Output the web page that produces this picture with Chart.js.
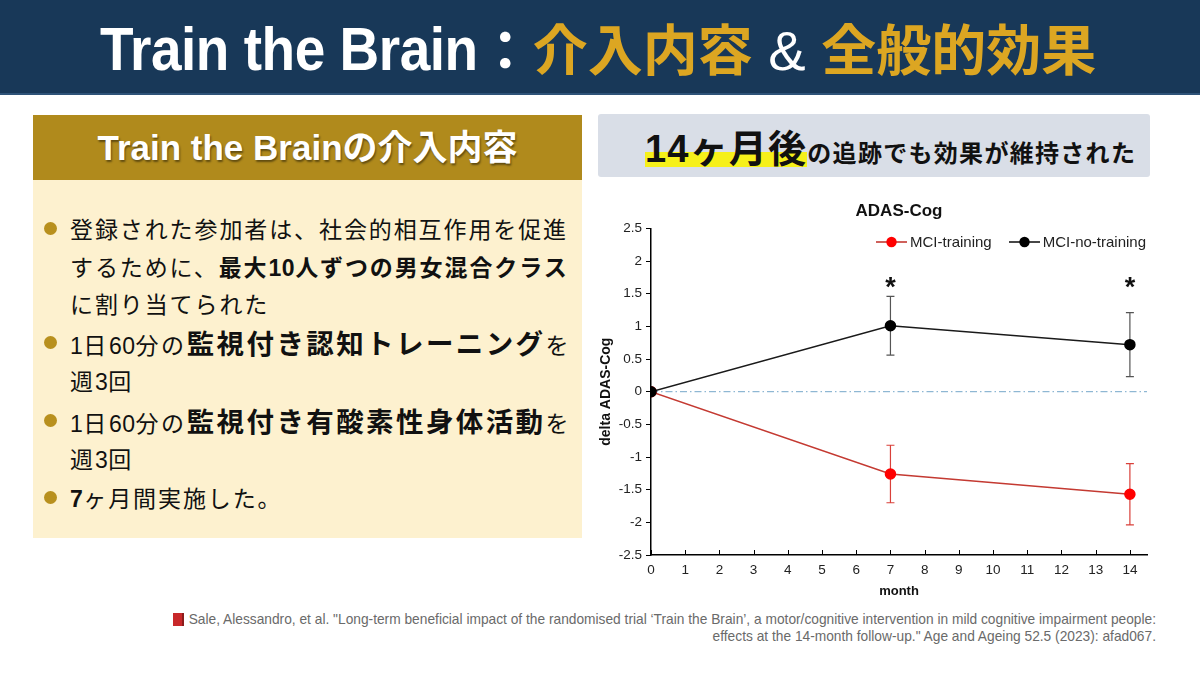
<!DOCTYPE html>
<html lang="ja">
<head>
<meta charset="utf-8">
<script src="https://cdn.jsdelivr.net/npm/chart.js@4.4.1/dist/chart.umd.min.js"></script>
<style>
  html, body { margin:0; padding:0; }
  body { width:1200px; height:675px; background:#ffffff; position:relative; overflow:hidden;
         font-family:"Liberation Sans","Noto Sans CJK JP",sans-serif; }
  #hdr { position:absolute; left:0; top:0; width:1200px; height:93px; background:#183858;
         border-bottom:2px solid #2e5378; }
  #hdr .t { position:absolute; left:100px; top:13px; white-space:nowrap;
            font-weight:700; font-size:56px; line-height:66px; color:#fff; }
  #hdr .en { font-family:"Liberation Sans",sans-serif; font-size:61px; display:inline-block;
             transform:scaleX(0.9); transform-origin:left center; letter-spacing:-0.5px; }
  #hdr .jp { font-family:"Noto Sans CJK JP",sans-serif; color:#dca622; font-size:55px; }
  #hdr .amp { font-family:"Liberation Sans",sans-serif; color:#fff; font-weight:400; }
  #lh { position:absolute; left:33px; top:115px; width:549px; height:65px; background:#b08a1c;
        color:#fff; font-weight:700; font-size:35px; line-height:65px; text-align:center; white-space:nowrap;
        text-shadow:1px 2px 2px rgba(0,0,0,0.45); }
  #lb { position:absolute; left:33px; top:180px; width:549px; height:358px; background:#fdf1cf; }
  .ln { position:absolute; left:37px; white-space:nowrap; height:38px; line-height:38px;
        font-family:"Noto Sans CJK JP",sans-serif; color:#111; font-size:23px; letter-spacing:1.9px; }
  .ln b { font-weight:700; }
  .ln .big { font-size:27.5px; letter-spacing:2.4px; font-weight:700; }
  .ln .num { font-family:"Liberation Sans",sans-serif; letter-spacing:0.5px; }
  .ln .pre { letter-spacing:2.6px; }
  .dot { position:absolute; left:11px; width:13px; height:13px; border-radius:50%; background:#b8901e; }
  #rh { position:absolute; left:598px; top:114px; width:552px; height:63px; background:#d9dee7; border-radius:3px;
        white-space:nowrap; font-family:"Noto Sans CJK JP",sans-serif; font-weight:700; color:#111; }
  #rh .in { position:absolute; left:47px; top:4px; line-height:56px; }
  #rh .hl { font-size:38px; letter-spacing:1.2px;
            background:linear-gradient(to bottom, transparent 62%, #f6f01a 62%, #f6f01a 90%, transparent 90%); }
  #rh .hl .n { font-family:"Liberation Sans",sans-serif; }
  #rh .rest { font-size:24px; letter-spacing:1.3px; }
  #chartWrap { position:absolute; left:598px; top:190px; width:562px; height:412px; }
  #legend { position:absolute; left:862px; top:231px; white-space:nowrap; font-size:15px; color:#222;
            font-family:"Liberation Sans",sans-serif; }
  #legend .it { display:inline-block; margin-left:17px; vertical-align:middle; }
  #legend .it:first-child { margin-left:14px; }
  #legend canvas { vertical-align:middle; margin-right:3px; position:relative; top:-1px; }
  #cite { position:absolute; left:170px; top:611px; width:986px; font-family:"Liberation Sans",sans-serif;
          font-size:13.75px; line-height:17px; color:#6a6a6a; text-align:right; }
  #cite div { white-space:nowrap; }
  #book { position:absolute; left:3px; top:2px; width:9px; height:13px; background:#c8282a; border-right:2px solid #8c1c1c; }
</style>
</head>
<body>
<div id="hdr"><div class="t"><span class="en" id="hdrEn">Train the Brain</span><span class="jp" style="color:#fff">：</span><span class="jp">介入内容</span><span class="amp"> &amp; </span><span class="jp">全般的効果</span></div></div>

<div id="lh">Train the Brainの介入内容</div>
<div id="lb">
  <div class="ln" style="top:29px"><span class="dot" style="left:-26px;top:13px"></span>登録された参加者は、社会的相互作用を促進</div>
  <div class="ln" style="top:67px">するために、<b>最大<span class="num">10</span>人ずつの男女混合クラス</b></div>
  <div class="ln" style="top:104px">に割り当てられた</div>
  <div class="ln" style="top:143px"><span class="dot" style="left:-26px;top:13px"></span><span class="pre"><span class="num">1</span>日<span class="num">60</span>分の</span><span class="big">監視付き認知トレーニング</span>を</div>
  <div class="ln" style="top:181px">週<span class="num">3</span>回</div>
  <div class="ln" style="top:221px"><span class="dot" style="left:-26px;top:13px"></span><span class="pre"><span class="num">1</span>日<span class="num">60</span>分の</span><span class="big">監視付き有酸素性身体活動</span>を</div>
  <div class="ln" style="top:259px">週<span class="num">3</span>回</div>
  <div class="ln" style="top:298px"><span class="dot" style="left:-26px;top:13px"></span><b class="num">7</b>ヶ月間実施した。</div>
</div>

<div id="rh"><div class="in"><span class="hl"><span class="n">14</span>ヶ月後</span><span class="rest">の追跡でも効果が維持された</span></div></div>

<div id="chartWrap"><canvas id="c"></canvas></div>
<div id="legend"></div>

<div id="cite"><span id="book"></span>
  <div>Sale, Alessandro, et al. "Long-term beneficial impact of the randomised trial ‘Train the Brain’, a motor/cognitive intervention in mild cognitive impairment people:</div>
  <div>effects at the 14-month follow-up." Age and Ageing 52.5 (2023): afad067.</div>
</div>

<script>
// compensate layout width of horizontally condensed header text
(function () {
  const en = document.getElementById('hdrEn');
  const w = en.getBoundingClientRect().width / 0.9;
  en.style.marginRight = (-(w * 0.1)) + 'px';
})();

// ---- data ----
const months = [0, 7, 14];
const seriesLabels = ['MCI-training', 'MCI-no-training'];
const trainingMean = [0, -1.26, -1.57];
const trainingErr = [0, 0.44, 0.47];
const noTrainingMean = [0, 1.01, 0.72];
const noTrainingErr = [0, 0.45, 0.49];
const sigMonths = [7, 14];
const sigLevel = 1.70;
const xTicks = [0,1,2,3,4,5,6,7,8,9,10,11,12,13,14];
const yTicks = [-2.5,-2,-1.5,-1,-0.5,0,0.5,1,1.5,2,2.5];

// ---- styles ----
const lineColors = ['#c43a32', '#1a1a1a'];
const pointColors = ['#ff0000', '#000000'];
const errColors = ['#d9403a', '#555555'];
const drawOrder = [1, 0];

function makeIcon(lineC, dotC) {
  const c = document.createElement('canvas');
  c.width = 31; c.height = 12;
  const g = c.getContext('2d');
  g.strokeStyle = lineC; g.lineWidth = 1.6;
  g.beginPath(); g.moveTo(0, 6); g.lineTo(31, 6); g.stroke();
  g.fillStyle = dotC; g.beginPath(); g.arc(15.5, 6, 5.2, 0, Math.PI * 2); g.fill();
  return c;
}
const legendEl = document.getElementById('legend');
seriesLabels.forEach((lab, i) => {
  const it = document.createElement('span');
  it.className = 'it';
  it.appendChild(makeIcon(lineColors[i], pointColors[i]));
  it.appendChild(document.createTextNode(lab));
  legendEl.appendChild(it);
});

const means = [trainingMean, noTrainingMean];
const errs = [trainingErr, noTrainingErr];

const errorBars = {
  id: 'errorBars',
  beforeDatasetsDraw(chart) {
    const {ctx, scales: {x, y}} = chart;
    ctx.save();
    means.forEach((m, s) => {
      ctx.strokeStyle = errColors[s];
      ctx.lineWidth = 1.2;
      months.forEach((mo, i) => {
        const e = errs[s][i];
        if (!e) return;
        const px = x.getPixelForValue(mo);
        const y1 = y.getPixelForValue(m[i] + e);
        const y2 = y.getPixelForValue(m[i] - e);
        ctx.beginPath();
        ctx.moveTo(px, y1); ctx.lineTo(px, y2);
        ctx.moveTo(px - 4, y1); ctx.lineTo(px + 4, y1);
        ctx.moveTo(px - 4, y2); ctx.lineTo(px + 4, y2);
        ctx.stroke();
      });
    });
    ctx.restore();
  }
};

const zeroLine = {
  id: 'zeroLine',
  beforeDatasetsDraw(chart) {
    const {ctx, chartArea, scales: {y}} = chart;
    const py = y.getPixelForValue(0);
    ctx.save();
    ctx.strokeStyle = '#74a7c9';
    ctx.lineWidth = 1;
    ctx.setLineDash([7, 3, 1.5, 3]);
    ctx.beginPath(); ctx.moveTo(chartArea.left, py); ctx.lineTo(chartArea.right, py); ctx.stroke();
    ctx.restore();
  }
};

const xInTicks = {
  id: 'xInTicks',
  afterDraw(chart) {
    const {ctx, scales: {x}} = chart;
    ctx.save();
    ctx.strokeStyle = '#000'; ctx.lineWidth = 1;
    x.ticks.forEach(t => {
      const px = Math.round(x.getPixelForValue(t.value)) + 0.5;
      ctx.beginPath(); ctx.moveTo(px, x.top); ctx.lineTo(px, x.top - 5); ctx.stroke();
    });
    ctx.restore();
  }
};

const stars = {
  id: 'stars',
  afterDatasetsDraw(chart) {
    const {ctx, scales: {x, y}} = chart;
    ctx.save();
    ctx.fillStyle = '#111';
    ctx.font = 'bold 27px "Liberation Sans"';
    ctx.textAlign = 'center';
    ctx.textBaseline = 'alphabetic';
    sigMonths.forEach(mo => {
      ctx.fillText('*', x.getPixelForValue(mo), y.getPixelForValue(sigLevel) + 15);
    });
    ctx.restore();
  }
};

new Chart(document.getElementById('c'), {
  type: 'line',
  data: {
    datasets: seriesLabels.map((lab, s) => ({
      label: lab,
      data: months.map((mo, i) => ({x: mo, y: means[s][i]})),
      order: drawOrder[s],
      borderColor: lineColors[s],
      borderWidth: 1.5,
      pointBackgroundColor: pointColors[s],
      pointBorderColor: pointColors[s],
      pointRadius: 5,
      tension: 0,
      fill: false
    }))
  },
  options: {
    responsive: true,
    maintainAspectRatio: false,
    animation: false,
    layout: { padding: { left: 0, right: 13, top: 0, bottom: 0 } },
    plugins: {
      legend: { display: false },
      tooltip: { enabled: false },
      title: {
        display: true, text: 'ADAS-Cog', color: '#111', fullSize: false,
        font: { family: 'Liberation Sans', size: 17, weight: 'bold' },
        padding: { top: 11, bottom: 7 }
      }
    },
    scales: {
      x: {
        type: 'linear', min: 0, max: 14.5,
        afterBuildTicks: s => { s.ticks = xTicks.map(v => ({value: v})); },
        afterFit: s => { s.height = 47; },
        ticks: { color: '#222', padding: 7, callback: v => String(v),
                 font: { family: 'Liberation Sans', size: 13.5 } },
        grid: { display: true, drawOnChartArea: false, drawTicks: false },
        border: { color: '#000', width: 1.5 },
        title: { display: true, text: 'month', color: '#111', padding: { top: 0, bottom: 3 },
                 font: { family: 'Liberation Sans', size: 13, weight: 'bold' } }
      },
      y: {
        type: 'linear', min: -2.5, max: 2.5,
        afterBuildTicks: s => { s.ticks = yTicks.map(v => ({value: v})); },
        afterFit: s => { s.width = 53; },
        ticks: { color: '#222', padding: 4, callback: v => String(v),
                 font: { family: 'Liberation Sans', size: 13.5 } },
        grid: { display: true, drawOnChartArea: false, drawTicks: true, tickLength: 5, tickColor: '#000', color: '#000' },
        border: { color: '#000', width: 1.5 },
        title: { display: true, text: 'delta ADAS-Cog', color: '#111', padding: { top: 0, bottom: 2 },
                 font: { family: 'Liberation Sans', size: 14, weight: 'bold' } }
      }
    }
  },
  plugins: [zeroLine, errorBars, stars, xInTicks]
});
</script>
</body>
</html>
